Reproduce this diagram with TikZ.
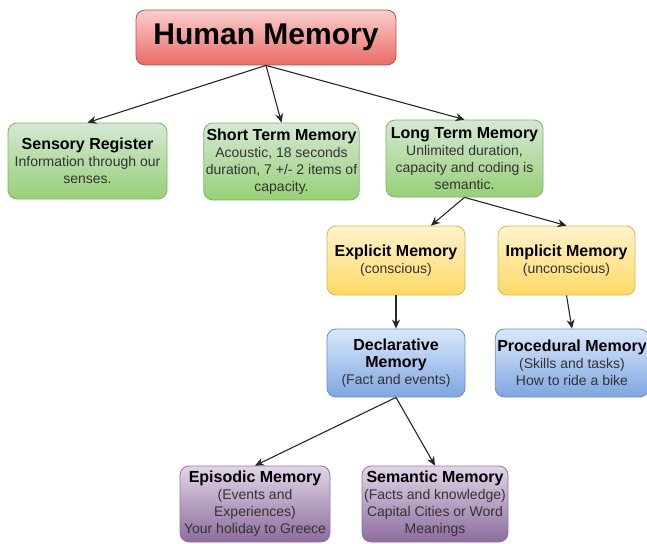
\documentclass[tikz,border=0pt]{standalone}
\usepackage{fontspec}
\setmainfont{Liberation Sans}
\usepackage{tikz}
\usetikzlibrary{arrows.meta}

\definecolor{redtop}{HTML}{F8CECC}
\definecolor{redbot}{HTML}{EA6B66}
\definecolor{redline}{HTML}{B85450}
\definecolor{greentop}{HTML}{D5E8D4}
\definecolor{greenbot}{HTML}{97D077}
\definecolor{greenline}{HTML}{82B366}
\definecolor{yellowtop}{HTML}{FFF2CC}
\definecolor{yellowbot}{HTML}{FFD966}
\definecolor{yellowline}{HTML}{D6B656}
\definecolor{bluetop}{HTML}{DAE8FC}
\definecolor{bluebot}{HTML}{7EA6E0}
\definecolor{blueline}{HTML}{6C8EBF}
\definecolor{purpletop}{HTML}{E1D5E7}
\definecolor{purplebot}{HTML}{8C6C9C}
\definecolor{purpleline}{HTML}{9673A6}

\newcommand{\hd}[1]{{\fontsize{16}{18}\selectfont\bfseries\color{black}#1}}

\tikzset{
  memblock/.style={draw, rounded corners=9pt, line width=0.8pt, align=center,
    inner sep=2pt, text=black!80, font=\fontsize{14}{17}\selectfont},
  redblock/.style={memblock, draw=redline, top color=redtop, bottom color=redbot},
  greenblock/.style={memblock, draw=greenline, top color=greentop, bottom color=greenbot},
  yellowblock/.style={memblock, draw=yellowline, top color=yellowtop, bottom color=yellowbot},
  blueblock/.style={memblock, draw=blueline, top color=bluetop, bottom color=bluebot},
  purpleblock/.style={memblock, draw=purpleline, top color=purpletop, bottom color=purplebot},
  link/.style={-{Stealth[length=9pt,width=8pt]}, line width=1.1pt, black!85}
}

\begin{document}
\begin{tikzpicture}[x=1pt, y=-1pt]
        \useasboundingbox (0,0) rectangle (647,543);
        % nodes
        \node[redblock, minimum width=260pt, minimum height=55pt, text=black,
              font=\fontsize{30}{32}\selectfont\bfseries] (human) at (266, 37.5) {Human Memory};
        \node[greenblock, minimum width=159pt, minimum height=76pt] (sensory) at (87.5, 161)
              {\hd{Sensory Register}\\Information through our\\senses.};
        \node[greenblock, minimum width=153pt, minimum height=77pt] (short) at (281.5, 161.5)
              {\hd{Short Term Memory}\\Acoustic, 18 seconds\\duration, 7 +/- 2 items of\\capacity.};
        \node[greenblock, minimum width=157pt, minimum height=77pt] (long) at (464.5, 158.5)
              {\hd{Long Term Memory}\\Unlimited duration,\\capacity and coding is\\semantic.};
        \node[yellowblock, minimum width=138pt, minimum height=69pt] (explicit) at (396, 260.5)
              {\hd{Explicit Memory}\\(conscious)};
        \node[yellowblock, minimum width=137pt, minimum height=69pt] (implicit) at (566.5, 260.5)
              {\hd{Implicit Memory}\\(unconscious)};
        \node[blueblock, minimum width=138pt, minimum height=68pt] (declarative) at (396, 363)
              {\hd{Declarative}\\\hd{Memory}\\(Fact and events)};
        \node[blueblock, minimum width=148pt, minimum height=68pt] (procedural) at (572, 363)
              {\hd{Procedural Memory}\\(Skills and tasks)\\How to ride a bike};
        \node[purpleblock, minimum width=150pt, minimum height=76pt] (episodic) at (255, 504)
              {\hd{Episodic Memory}\\(Events and\\Experiences)\\Your holiday to Greece};
        \node[purpleblock, minimum width=146pt, minimum height=76pt] (semantic) at (435, 504)
              {\hd{Semantic Memory}\\(Facts and knowledge)\\Capital Cities or Word\\Meanings};
        % arrows
        \draw[link] (human.south)       -- (sensory.north);
        \draw[link] (human.south)       -- (short.north);
        \draw[link] (human.south)       -- (long.north);
        \draw[link] (long.south)        -- (explicit.45);
        \draw[link] (long.south)        -- (implicit.north);
        \draw[link] (explicit.south)    -- (declarative.north);
        \draw[link] (implicit.south)    -- (procedural.north);
        \draw[link] (declarative.south) -- (episodic.north);
        \draw[link] (declarative.south) -- (semantic.north);
\end{tikzpicture}
\end{document}
